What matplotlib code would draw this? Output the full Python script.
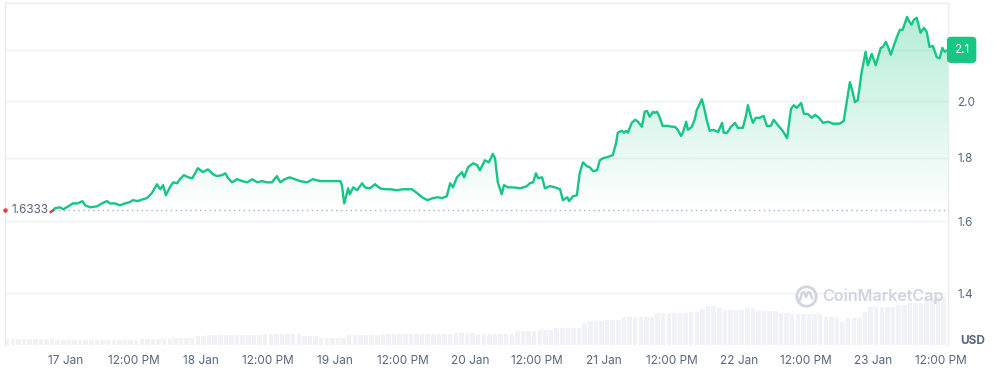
import numpy as np
import matplotlib.pyplot as plt
from matplotlib.patches import Polygon
from matplotlib.lines import Line2D
from matplotlib.ticker import NullLocator, NullFormatter
import matplotlib.transforms as mtransforms

plt.rcParams['font.family'] = ['Inter', 'DejaVu Sans']

# hours after 17 Jan 00:00
hours = [-2.8, -2.3, -2.0, -1.1, -0.5, 0.4, 1.2, 2.1, 2.9, 3.4, 4.3, 5.5, 6.4, 7.3, 7.8, 8.7, 9.6,
         10.5, 11.4, 11.9, 12.8, 13.7, 14.4, 15.3, 16.2, 16.8, 17.3, 17.8, 18.5, 19.1, 19.8, 20.3,
         21.0, 21.8, 22.5, 23.0, 23.5, 24.4, 25.3, 26.2, 26.9, 27.8, 28.4, 28.9, 29.6, 30.5, 31.4,
         32.3, 33.2, 34.1, 34.9, 35.8, 36.7, 37.6, 38.2, 39.0, 39.9, 40.8, 41.7, 43.0, 44.0, 45.3,
         47.1, 48.9, 49.2, 49.6, 50.1, 50.3, 50.6, 51.2, 51.9, 52.8, 53.3, 54.2, 55.1, 56.0, 56.9,
         57.8, 59.0, 60.1, 61.7, 62.6, 63.5, 64.4, 65.4, 66.3, 67.0, 67.9, 68.5, 69.0, 69.7, 70.6,
         71.0, 71.7, 72.6, 73.3, 73.8, 74.7, 75.4, 76.1, 76.5, 77.0, 77.7, 78.1, 78.8, 79.7, 81.0,
         82.2, 82.7, 83.3, 83.8, 84.2, 84.9, 85.4, 86.3, 87.2, 88.1, 88.6, 89.4, 89.7, 90.4, 91.1,
         91.6, 92.2, 92.9, 93.4, 94.0, 94.7, 95.2, 95.8, 96.6, 97.5, 98.1, 98.4, 99.1, 99.5, 99.9,
         100.2, 100.9, 101.5, 102.0, 102.7, 103.2, 103.6, 104.1, 104.7, 105.0, 105.4, 105.9, 106.4,
         107.3, 108.1, 108.6, 109.1, 109.7, 110.0, 110.6, 110.9, 111.6, 112.1, 112.5, 113.4, 113.8,
         114.3, 114.8, 115.4, 116.3, 117.0, 117.3, 117.9, 118.6, 119.3, 119.8, 120.7, 121.3, 121.6,
         122.1, 122.5, 123.0, 123.7, 124.4, 125.0, 125.7, 126.2, 126.9, 127.8, 128.6, 129.3, 129.8,
         130.3, 131.1, 131.6, 132.3, 133.0, 133.6, 134.3, 135.0, 135.9, 136.8, 138.0, 138.7, 139.3,
         139.8, 140.3, 140.7, 141.2, 141.9, 142.6, 143.0, 143.7, 144.4, 145.3, 145.7, 146.2, 146.6,
         147.1, 147.5, 148.2, 148.7, 149.2, 150.0, 150.3, 150.8, 151.2, 151.7, 152.4, 153.0, 153.5,
         154.0, 154.6, 155.3, 155.8, 156.3, 156.7, 157.3]

price = [1.627, 1.633, 1.639, 1.642, 1.636, 1.645, 1.654, 1.654, 1.661, 1.648, 1.642, 1.645, 1.654,
         1.661, 1.654, 1.654, 1.648, 1.654, 1.658, 1.664, 1.661, 1.667, 1.670, 1.686, 1.714, 1.698,
         1.711, 1.679, 1.704, 1.720, 1.717, 1.730, 1.743, 1.736, 1.733, 1.749, 1.766, 1.753, 1.762,
         1.746, 1.740, 1.743, 1.749, 1.733, 1.720, 1.730, 1.724, 1.720, 1.730, 1.720, 1.724, 1.720,
         1.720, 1.740, 1.720, 1.730, 1.736, 1.730, 1.724, 1.720, 1.730, 1.724, 1.724, 1.724, 1.711,
         1.654, 1.686, 1.701, 1.682, 1.704, 1.695, 1.717, 1.704, 1.701, 1.714, 1.701, 1.698, 1.698,
         1.695, 1.698, 1.698, 1.686, 1.673, 1.664, 1.670, 1.673, 1.670, 1.676, 1.717, 1.704, 1.736,
         1.753, 1.736, 1.769, 1.782, 1.776, 1.759, 1.792, 1.785, 1.813, 1.799, 1.720, 1.682, 1.711,
         1.704, 1.704, 1.701, 1.708, 1.717, 1.720, 1.749, 1.733, 1.736, 1.701, 1.708, 1.704, 1.698,
         1.664, 1.673, 1.661, 1.676, 1.679, 1.749, 1.785, 1.772, 1.769, 1.756, 1.759, 1.792, 1.799,
         1.803, 1.809, 1.851, 1.886, 1.893, 1.886, 1.893, 1.886, 1.921, 1.932, 1.925, 1.907, 1.961,
         1.964, 1.943, 1.961, 1.957, 1.961, 1.939, 1.910, 1.910, 1.907, 1.907, 1.896, 1.875, 1.886,
         1.925, 1.896, 1.907, 1.932, 1.968, 2.007, 1.975, 1.928, 1.893, 1.896, 1.889, 1.921, 1.886,
         1.886, 1.907, 1.921, 1.903, 1.903, 1.950, 1.985, 1.946, 1.921, 1.939, 1.939, 1.946, 1.910,
         1.910, 1.932, 1.914, 1.893, 1.867, 1.972, 1.985, 1.975, 1.993, 1.953, 1.953, 1.939, 1.950,
         1.939, 1.921, 1.925, 1.918, 1.918, 1.928, 2.004, 2.072, 2.034, 1.996, 2.004, 2.111, 2.192,
         2.138, 2.184, 2.138, 2.208, 2.212, 2.233, 2.212, 2.180, 2.208, 2.254, 2.283, 2.283, 2.339,
         2.322, 2.305, 2.326, 2.335, 2.271, 2.292, 2.275, 2.212, 2.216, 2.170, 2.166, 2.208, 2.192,
         2.200]

open_price = 1.6333
open_label = '1.6333'
last_label = '2.1'

# hourly volume (relative), first bar starts 11 h before 17 Jan
vol_start = -11
volume = [6, 6, 6, 6, 6, 6, 6, 6, 6, 5, 5, 5, 5, 5, 5, 5, 5, 5, 5, 5, 5, 5, 5, 5,
          6, 6, 6, 6, 6, 6, 7, 7, 7, 7, 9, 9, 10, 10, 10, 10, 10, 10, 10, 10, 10, 10, 11, 11,
          11, 11, 11, 11, 11, 9, 9, 9, 7, 7, 7, 7, 7, 10, 10, 10, 10, 10, 10, 11, 11, 11, 11, 11,
          11, 11, 11, 11, 11, 11, 11, 11, 12, 12, 12, 12, 11, 11, 11, 11, 11, 11, 11, 14, 14, 14, 14, 15,
          15, 15, 17, 17, 17, 17, 17, 22, 24, 24, 24, 25, 25, 25, 28, 28, 28, 28, 28, 28, 32, 32, 32, 32,
          32, 32, 33, 33, 36, 39, 39, 37, 35, 35, 35, 35, 37, 37, 34, 34, 34, 34, 32, 32, 31, 31, 31, 31,
          31, 31, 28, 28, 28, 23, 27, 27, 27, 33, 38, 38, 38, 38, 38, 40, 40, 42, 42, 42, 48, 48, 48, 48]

tick_hours = [0, 12, 24, 36, 48, 60, 72, 84, 96, 108, 120, 132, 144, 156]
tick_labels = ['17 Jan', '12:00 PM', '18 Jan', '12:00 PM', '19 Jan', '12:00 PM', '20 Jan',
               '12:00 PM', '21 Jan', '12:00 PM', '22 Jan', '12:00 PM', '23 Jan', '12:00 PM']
y_ticks = [1.4, 1.6, 1.8, 2.0, 2.2]
y_labels = ['1.4', '1.6', '1.8', '2.0', '']

green = '#16c784'
red = '#ea3943'
grey = '#58667e'
line_grey = '#eff2f5'

x_lo, x_hi = -10.9, 157.3
y_lo, y_hi = 1.2714, 2.40

fig = plt.figure(figsize=(9.98, 3.7), dpi=100)
rect = [5 / 998, 1 - 345 / 370, 943 / 998, 342 / 370]

# volume bars underneath
vax = fig.add_axes(rect, zorder=0)
vx = np.arange(vol_start, vol_start + len(volume)) + 0.5
vax.bar(vx, volume, width=0.8, color='#f0f2f6', linewidth=0)
vax.set_xlim(x_lo, x_hi)
vax.set_ylim(0, 342)
vax.axis('off')

ax = fig.add_axes(rect, zorder=1)
ax.set_facecolor('none')
ax.set_yscale('log')
ax.set_xlim(x_lo, x_hi)
ax.set_ylim(y_lo, y_hi)
ax.set_autoscale_on(False)

# gradient fill between line and open price
verts = [(hours[1], open_price)] + list(zip(hours[1:], price[1:])) + [(hours[-1], open_price)]
poly = Polygon(verts, closed=True, facecolor='none', edgecolor='none', transform=ax.transData)
ax.add_patch(poly)
frac = (np.log(open_price) - np.log(y_lo)) / (np.log(y_hi) - np.log(y_lo))
t = np.linspace(0, 1, 400)
alpha = np.clip((t - frac) / (1 - frac), 0, 1) * 0.34
grad = np.zeros((400, 2, 4))
grad[:, :, 0] = 22 / 255
grad[:, :, 1] = 199 / 255
grad[:, :, 2] = 132 / 255
grad[:, :, 3] = alpha[:, None]
im = ax.imshow(grad, extent=[0, 1, 0, 1], transform=ax.transAxes, origin='lower',
               aspect='auto', interpolation='bilinear', zorder=1)
im.set_clip_path(poly)

ax.axhline(open_price, color='#a6b0c3', linestyle=(0, (1, 2.5)), linewidth=1, zorder=2)

ax.plot(hours[1:], price[1:], color=green, linewidth=1.7, zorder=4, solid_joinstyle='round')
ax.plot(hours[:2], price[:2], color=red, linewidth=1.7, zorder=4, solid_capstyle='round')

# axes styling
ax.yaxis.tick_right()
ax.set_yticks(y_ticks)
ax.set_yticklabels(y_labels)
ax.yaxis.set_minor_locator(NullLocator())
ax.yaxis.set_minor_formatter(NullFormatter())
ax.tick_params(axis='y', length=0, pad=6.5, labelsize=8.5, labelcolor=grey)
ax.set_xticks(tick_hours)
ax.set_xticklabels(tick_labels)
ax.tick_params(axis='x', length=0, pad=7, labelsize=8.5, labelcolor=grey)
ax.grid(axis='y', color=line_grey, linewidth=1)
ax.set_axisbelow(True)
for s in ['left', 'right', 'top']:
    ax.spines[s].set_color('#e8ebef')
    ax.spines[s].set_linewidth(1)
ax.spines['bottom'].set_visible(False)

# open price marker and label
ax.plot([x_lo], [open_price], 'o', color=red, markersize=2.2, clip_on=False, zorder=6)
ax.text(-9.8, open_price, open_label, ha='left', va='center', fontsize=8.5, color=grey,
        zorder=3, bbox=dict(boxstyle='square,pad=0.15', fc='white', ec='none'))

# current price tag
trans = mtransforms.blended_transform_factory(ax.transAxes, ax.transData)
ax.text(1 + 6 / 943, price[-1], last_label, transform=trans, ha='left', va='center',
        fontsize=8.5, color='white', clip_on=False, zorder=7,
        bbox=dict(boxstyle='round,pad=0.6,rounding_size=0.35', fc=green, ec='none'))

fig.text(973 / 998, 1 - 341 / 370, 'USD', ha='center', va='center', fontsize=8.5,
         fontweight='bold', color=grey)

# watermark
wm = '#d0d5de'
fig.text(822 / 998, 1 - 296 / 370, 'CoinMarketCap', ha='left', va='center', fontsize=11.6,
         fontweight='semibold', color=wm, zorder=5)
cx, cy = 806, 370 - 296
fig.add_artist(Line2D([cx], [cy], marker='o', markersize=14, markerfacecolor='none',
                      markeredgecolor=wm, markeredgewidth=2, transform=None))
fig.add_artist(Line2D([cx - 6, cx - 4, cx - 2, cx, cx + 2, cx + 4, cx + 6],
                      [cy - 4, cy + 3, cy + 4, cy - 1, cy + 4, cy + 3, cy - 2],
                      color=wm, linewidth=1.8, transform=None))

fig.savefig('out.png', dpi=100)
